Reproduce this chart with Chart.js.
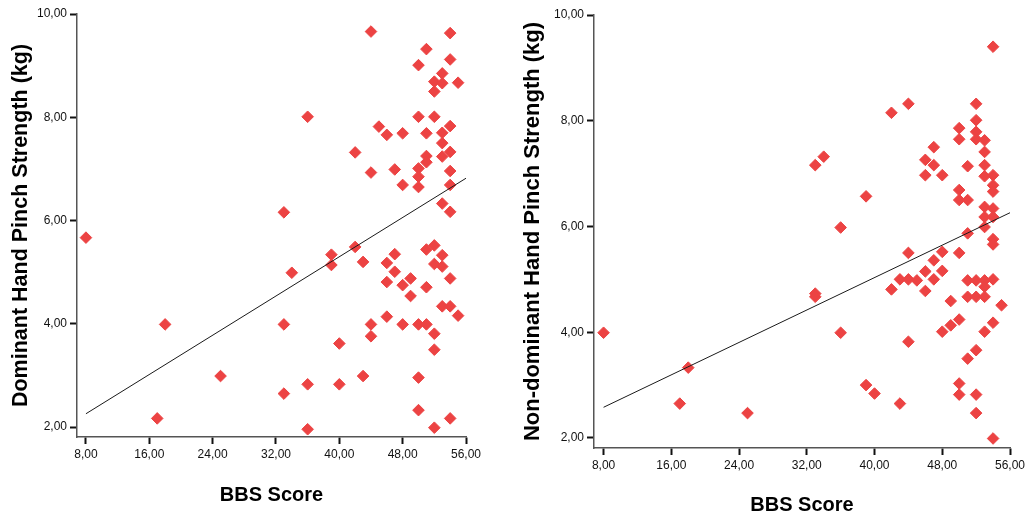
<!DOCTYPE html>
<html>
<head>
<meta charset="utf-8">
<title>Pinch Strength vs BBS Score</title>
<script src="https://cdn.jsdelivr.net/npm/chart.js@4/dist/chart.umd.min.js"></script>
<style>
  html, body { margin: 0; padding: 0; background: #fff; }
  #wrap { position: relative; width: 1031px; height: 519px; overflow: hidden; }
  .panel { position: absolute; top: 0; }
  #leftPanel { left: 0; width: 490px; height: 519px; }
  #rightPanel { left: 515px; width: 516px; height: 519px; }
</style>
</head>
<body>
<div id="wrap">
  <div class="panel" id="leftPanel"><canvas id="dominantChart" width="490" height="519"></canvas></div>
  <div class="panel" id="rightPanel"><canvas id="nonDominantChart" width="516" height="519"></canvas></div>
</div>
<script>
// ─── Data ───────────────────────────────────────────────────────────────────

const xTicks = [8, 16, 24, 32, 40, 48, 56];
const yTicks = [2, 4, 6, 8, 10];
const xTitle = 'BBS Score';
const dominantTitle = 'Dominant Hand Pinch Strength (kg)';
const nonDominantTitle = 'Non-dominant Hand Pinch Strength (kg)';

// [BBS score, pinch strength kg]
const dominantPoints = [
  [8, 5.67],
  [44, 9.66], [54, 9.63], [51, 9.32], [50, 9.01], [54, 9.12], [53, 8.85], [52, 8.69], [53, 8.66], [55, 8.67], [52, 8.50],
  [36, 8.01], [50, 8.01], [52, 8.01], [45, 7.82], [46, 7.66], [48, 7.69], [51, 7.69], [54, 7.83], [53, 7.70], [53, 7.50],
  [42, 7.32], [54, 7.33], [53, 7.24], [51, 7.25], [51, 7.13], [50, 7.01], [50, 6.85], [50, 6.65], [44, 6.93], [47, 6.99],
  [48, 6.69], [54, 6.96], [54, 6.69], [53, 6.33], [54, 6.17], [33, 6.16],
  [42, 5.49], [39, 5.34], [39, 5.14], [43, 5.20], [34, 4.99], [46, 5.18], [47, 5.35], [47, 5.01], [46, 4.81], [48, 4.75],
  [49, 4.88], [49, 4.54], [51, 4.71], [51, 5.44], [52, 5.52], [53, 5.33], [52, 5.16], [53, 5.11], [54, 4.88], [53, 4.34],
  [54, 4.34], [55, 4.16],
  [33, 3.99], [44, 3.99], [44, 3.76], [46, 4.14], [48, 3.99], [50, 3.99], [51, 3.99], [52, 3.81], [52, 3.50], [40, 3.62],
  [43, 2.99], [50, 2.96], [36, 2.83], [40, 2.83], [33, 2.65], [50, 2.33], [54, 2.17], [36, 1.96], [52, 1.99],
  [18, 3.99], [17, 2.17], [25, 2.99],
];

const nonDominantPoints = [
  [8, 3.99], [18, 3.33], [17, 2.65], [25, 2.47],
  [54, 9.40], [42, 8.15], [44, 8.32], [52, 8.32], [52, 8.01], [52, 7.79], [52, 7.65], [50, 7.86], [50, 7.65], [53, 7.63],
  [53, 7.41], [53, 7.16], [53, 6.95], [54, 6.97], [54, 6.78], [54, 6.66], [47, 7.50], [46, 7.26], [47, 7.16], [46, 6.97],
  [48, 6.97], [51, 7.14], [34, 7.32], [33, 7.16], [39, 6.57], [36, 5.98], [50, 6.69], [50, 6.50], [51, 6.50], [53, 6.37],
  [54, 6.34], [53, 6.18], [54, 6.18], [53, 5.99], [51, 5.87], [54, 5.76], [54, 5.66],
  [44, 5.50], [48, 5.52], [50, 5.50], [47, 5.36], [46, 5.15], [48, 5.16], [47, 5.00], [43, 5.00], [44, 5.00], [45, 4.98],
  [42, 4.81], [46, 4.78], [33, 4.73], [33, 4.67], [51, 4.98], [52, 4.98], [53, 4.98], [54, 5.00], [53, 4.86], [51, 4.67],
  [52, 4.67], [53, 4.67], [49, 4.59], [55, 4.51], [36, 3.99], [44, 3.82], [48, 4.01], [49, 4.13], [50, 4.24], [54, 4.18],
  [53, 4.01], [52, 3.66], [51, 3.50], [39, 3.00], [40, 2.84], [43, 2.65], [50, 3.03], [50, 2.82], [52, 2.82], [52, 2.47],
  [54, 1.99],
];

// fitted line end points
const dominantFit = [[8, 2.26], [56, 6.82]];
const nonDominantFit = [[8, 2.58], [56, 6.26]];

const xRange = [6.87, 56];
const yRange = [1.81, 10];

// ─── Helpers ────────────────────────────────────────────────────────────────

const toXY = arr => arr.map(p => ({ x: p[0], y: p[1] }));
const fmt = v => v.toFixed(2).replace('.', ',');
const FONT = '"Liberation Sans", Arial, Helvetica, sans-serif';
const MARKER = '#ec4343';

function renderScatter(canvasId, points, fit, yTitle, box) {
  const ctx = document.getElementById(canvasId);
  return new Chart(ctx, {
    data: {
      datasets: [
        {
          type: 'scatter',
          data: toXY(points),
          pointStyle: 'rectRot',
          pointRadius: 5.8,
          backgroundColor: MARKER,
          borderColor: MARKER,
          borderWidth: 1,
          order: 2,
        },
        {
          type: 'line',
          data: toXY(fit),
          borderColor: '#1a1a1a',
          borderWidth: 1,
          pointRadius: 0,
          order: 1,
        },
      ],
    },
    options: {
      responsive: false,
      animation: false,
      devicePixelRatio: 1,
      layout: { padding: { top: box.top, right: box.right, left: 0, bottom: 0 } },
      plugins: { legend: { display: false }, tooltip: { enabled: false } },
      scales: {
        x: {
          type: 'linear',
          min: xRange[0],
          max: xRange[1],
          afterBuildTicks: s => { s.ticks = xTicks.map(v => ({ value: v })); },
          afterFit: s => { s.height = box.xHeight; s.paddingLeft = 0; s.paddingRight = 0; },
          ticks: { callback: v => fmt(v), color: '#111', font: { family: FONT, size: 12 }, padding: 3, maxRotation: 0 },
          grid: { drawOnChartArea: false, tickLength: 7, tickWidth: 2, tickColor: '#111' },
          border: { color: '#555', width: 1.5 },
          title: { display: true, text: xTitle, color: '#000', font: { family: FONT, size: 20, weight: 'bold' }, padding: { top: 0, bottom: box.xTitlePad } },
        },
        y: {
          type: 'linear',
          min: yRange[0],
          max: yRange[1],
          afterBuildTicks: s => { s.ticks = yTicks.map(v => ({ value: v })); },
          afterFit: s => { s.width = box.yWidth; s.paddingTop = 0; s.paddingBottom = 0; },
          ticks: { callback: v => fmt(v), color: '#111', font: { family: FONT, size: 12 }, padding: 3 },
          grid: { drawOnChartArea: false, tickLength: 7, tickWidth: 2, tickColor: '#111' },
          border: { color: '#555', width: 1.5 },
          title: { display: true, text: yTitle, color: '#000', font: { family: FONT, size: box.yTitleSize, weight: 'bold' }, padding: { top: box.yTitlePad, bottom: 0 } },
        },
      },
    },
  });
}

renderScatter('dominantChart', dominantPoints, dominantFit, dominantTitle,
  { top: 14, right: 24, xHeight: 82, yWidth: 77, xTitlePad: 12, yTitlePad: 8, yTitleSize: 21.5 });
renderScatter('nonDominantChart', nonDominantPoints, nonDominantFit, nonDominantTitle,
  { top: 15, right: 21, xHeight: 71, yWidth: 79, xTitlePad: 2, yTitlePad: 5, yTitleSize: 22 });
</script>
</body>
</html>
